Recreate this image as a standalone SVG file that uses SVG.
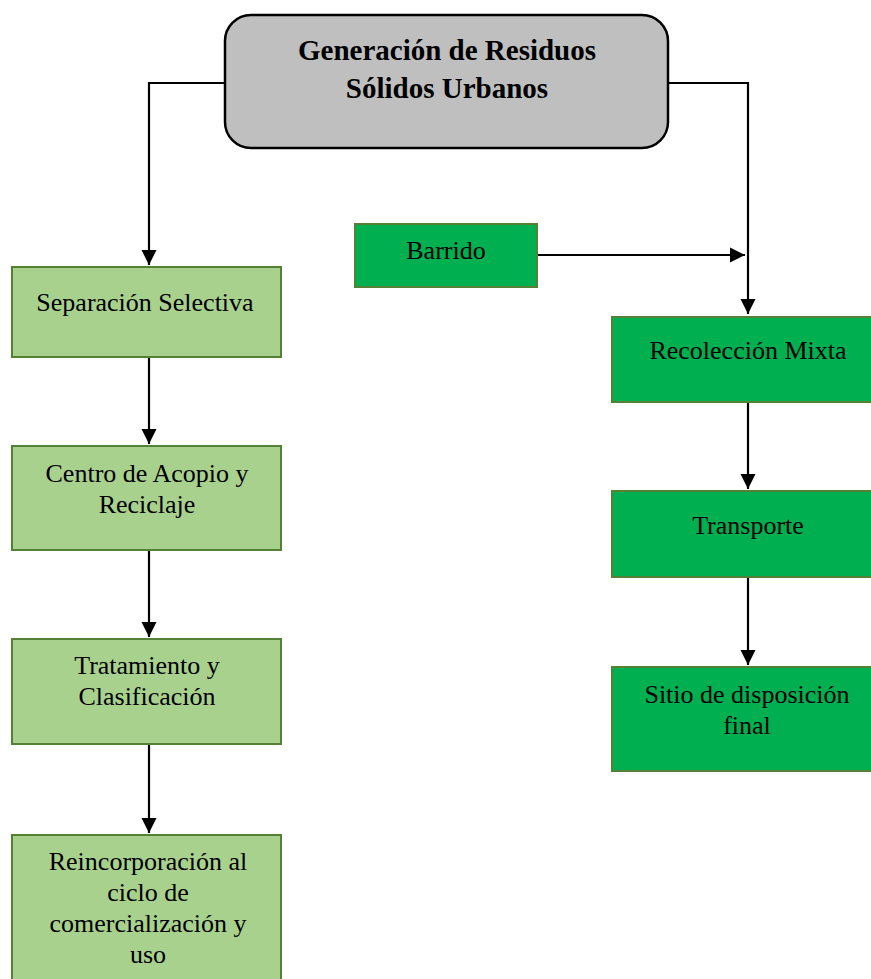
<svg xmlns="http://www.w3.org/2000/svg" width="871" height="979" viewBox="0 0 871 979" font-family="Liberation Serif, DejaVu Serif, serif">
<style>
text{font-size:26px;fill:#000;text-anchor:middle}
.t{font-weight:bold;font-size:29px}
.lg{fill:#a9d18e;stroke:#538135;stroke-width:2}
.dg{fill:#00b050;stroke:#538135;stroke-width:2}
.c{fill:none;stroke:#000;stroke-width:2.2}
</style>
<defs>
<marker id="ah" viewBox="0 0 10 10" refX="10" refY="5" markerWidth="7" markerHeight="7" orient="auto" markerUnits="strokeWidth">
<path d="M0,0 L10,5 L0,10 z" fill="#000"/>
</marker>
</defs>
<g id="connectors">
<path class="c" d="M225,83 H149 V265" marker-end="url(#ah)"/>
<path class="c" d="M668,83 H748 V314" marker-end="url(#ah)"/>
<path class="c" d="M537,255 H745" marker-end="url(#ah)"/>
<path class="c" d="M149,357 V444" marker-end="url(#ah)"/>
<path class="c" d="M149,550 V637" marker-end="url(#ah)"/>
<path class="c" d="M149,744 V833" marker-end="url(#ah)"/>
<path class="c" d="M748,402 V489" marker-end="url(#ah)"/>
<path class="c" d="M748,577 V665" marker-end="url(#ah)"/>
</g>
<g id="generacion">
<rect x="225" y="15" width="443" height="133" rx="26" fill="#bfbfbf" stroke="#000" stroke-width="2.5"/>
<text class="t" x="447" y="60">Generación de Residuos</text>
<text class="t" x="447" y="98">Sólidos Urbanos</text>
</g>
<g id="barrido">
<rect class="dg" x="355" y="224" width="182" height="63"/>
<text x="446" y="259">Barrido</text>
</g>
<g id="separacion">
<rect class="lg" x="12" y="267" width="269" height="90"/>
<text x="145" y="311">Separación Selectiva</text>
</g>
<g id="centro">
<rect class="lg" x="12" y="446" width="269" height="104"/>
<text x="147" y="482">Centro de Acopio y</text>
<text x="147" y="513">Reciclaje</text>
</g>
<g id="tratamiento">
<rect class="lg" x="12" y="639" width="269" height="105"/>
<text x="147" y="674">Tratamiento y</text>
<text x="147" y="705">Clasificación</text>
</g>
<g id="reincorporacion">
<rect class="lg" x="12" y="835" width="269" height="150"/>
<text x="148" y="870">Reincorporación al</text>
<text x="148" y="901">ciclo de</text>
<text x="148" y="932">comercialización y</text>
<text x="148" y="963">uso</text>
</g>
<g id="recoleccion">
<rect class="dg" x="612" y="317" width="265" height="85"/>
<text x="748" y="359">Recolección Mixta</text>
</g>
<g id="transporte">
<rect class="dg" x="612" y="491" width="265" height="86"/>
<text x="748" y="534">Transporte</text>
</g>
<g id="sitio">
<rect class="dg" x="612" y="667" width="265" height="104"/>
<text x="747" y="703">Sitio de disposición</text>
<text x="747" y="734">final</text>
</g>
</svg>
